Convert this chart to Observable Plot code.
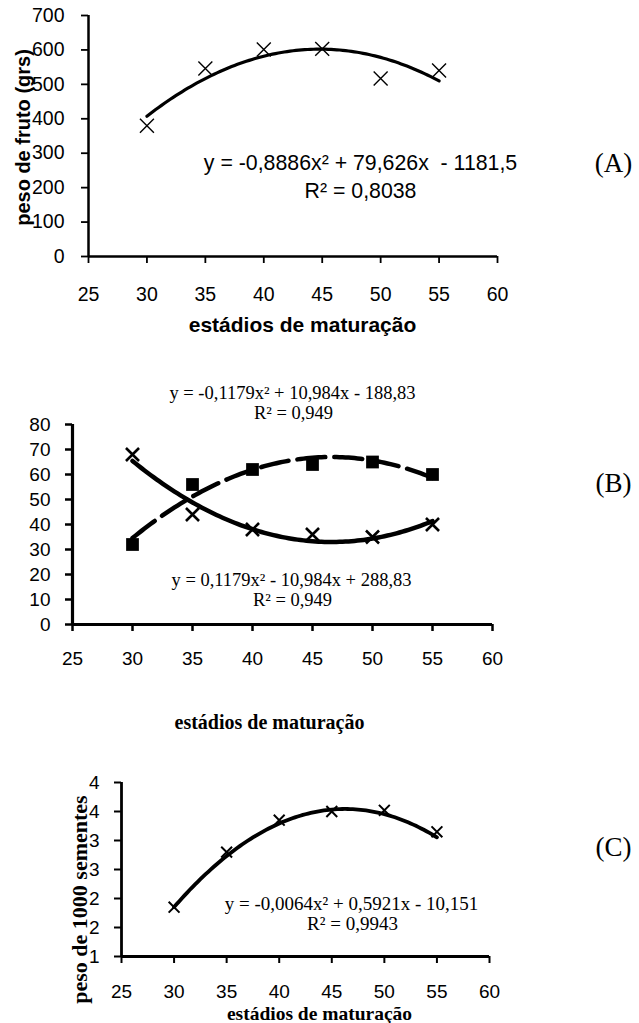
<!DOCTYPE html>
<html>
<head>
<meta charset="utf-8">
<script src="https://cdn.jsdelivr.net/npm/d3@7"></script>
<script src="https://cdn.jsdelivr.net/npm/@observablehq/plot@0.6"></script>
<style>
  html, body { margin: 0; padding: 0; background: #fff; }
  #wrap { position: relative; width: 639px; height: 1023px; overflow: hidden; background: #fff; }
  .panel { position: absolute; left: 0; }
</style>
</head>
<body>
<div id="wrap">
  <div class="panel" id="pA" style="top:0px"></div>
  <div class="panel" id="pB" style="top:370px"></div>
  <div class="panel" id="pC" style="top:740px"></div>
</div>
<script>
// ---------- data ----------
const stages = [30, 35, 40, 45, 50, 55];
const xTicks = [25, 30, 35, 40, 45, 50, 55, 60];

// (A) peso de fruto
const fruitWeight = [380, 546, 601, 603, 517, 540];
const fitA = [-0.8886, 79.626, -1181.5];
const yTicksA = [0, 100, 200, 300, 400, 500, 600, 700];
const eqA = ["y = -0,8886x² + 79,626x\u00a0 - 1181,5", "R² = 0,8038"];

// (B) two complementary series
const seriesSquare = [32, 56, 62, 64, 65, 60];
const seriesCross = [68, 44, 38, 36, 35, 40];
const fitBSquare = [-0.1179, 10.984, -188.83];
const fitBCross = [0.1179, -10.984, 288.83];
const yTicksB = [0, 10, 20, 30, 40, 50, 60, 70, 80];
const eqBSquare = ["y = -0,1179x² + 10,984x - 188,83", "R² = 0,949"];
const eqBCross = ["y = 0,1179x² - 10,984x + 288,83", "R² = 0,949"];

// (C) peso de 1000 sementes
const seedWeight = [1.85, 2.8, 3.35, 3.5, 3.52, 3.15];
const fitC = [-0.0064, 0.5921, -10.151];
const yTicksC = [1, 1.5, 2, 2.5, 3, 3.5, 4];
const eqC = ["y = -0,0064x² + 0,5921x - 10,151", "R² = 0,9943"];

const xTitle = "estádios de maturação";
const yTitleA = "peso de fruto (grs)";
const yTitleC = "peso de 1000 sementes";
const panelLabels = ["(A)", "(B)", "(C)"];

// trendline from the printed polynomial equation
function trend(coef) {
  const [a, b, c] = coef;
  return d3.range(stages[0], stages[stages.length - 1] + 0.001, 0.25)
    .map(x => ({x, y: a * x * x + b * x + c}));
}
const pts = vals => stages.map((x, i) => ({x, y: vals[i]}));

const SANS = "Liberation Sans, Arial, sans-serif";
const SERIF = "Liberation Serif, Times New Roman, serif";
const note = (txt, dx, dy, o = {}) =>
  Plot.text([txt], {frameAnchor: "top-left", dx, dy, textAnchor: "middle", lineAnchor: "middle", ...o});

// ---------- (A) ----------
const chartA = Plot.plot({
  width: 639, height: 370,
  marginLeft: 88, marginRight: 142, marginTop: 15, marginBottom: 114,
  style: {fontFamily: SANS, fontSize: "19px", color: "black", background: "white", overflow: "visible"},
  x: {domain: [25, 60]},
  y: {domain: [0, 700]},
  marks: [
    Plot.axisY({ticks: yTicksA, tickSize: 7, tickPadding: 17, strokeWidth: 1.8, fontSize: 19.5, label: null}),
    Plot.axisX({ticks: xTicks, tickSize: 7, tickPadding: 24, strokeWidth: 1.8, fontSize: 19.5, label: null}),
    Plot.ruleX([25], {stroke: "black", strokeWidth: 2.5}),
    Plot.ruleY([0], {stroke: "black", strokeWidth: 2.5}),
    Plot.line(trend(fitA), {x: "x", y: "y", stroke: "black", strokeWidth: 3.2}),
    Plot.dot(pts(fruitWeight), {x: "x", y: "y", symbol: "times", r: 6.4, stroke: "black", strokeWidth: 1.4}),
    note(eqA[0], 272, 148, {fontSize: 21.3, fontFamily: SANS}),
    note(eqA[1], 272, 176, {fontSize: 21.3, fontFamily: SANS}),
    note(panelLabels[0], 525, 148, {fontSize: 27, fontFamily: SERIF}),
    note(xTitle, 214, 310, {fontSize: 21, fontWeight: "bold", fontFamily: SANS}),
    note(yTitleA, -65, 122, {rotate: -90, fontSize: 20, fontWeight: "bold", fontFamily: SANS})
  ]
});
document.getElementById("pA").append(chartA);

// ---------- (B) ----------
const chartB = Plot.plot({
  width: 639, height: 370,
  marginLeft: 72, marginRight: 147, marginTop: 54, marginBottom: 116,
  style: {fontFamily: SANS, fontSize: "19px", color: "black", background: "white", overflow: "visible"},
  x: {domain: [25, 60]},
  y: {domain: [0, 80]},
  marks: [
    Plot.axisY({ticks: yTicksB, tickSize: 7, tickPadding: 15, strokeWidth: 2.5, fontSize: 19, label: null}),
    Plot.axisX({ticks: xTicks, tickSize: 7, tickPadding: 20, strokeWidth: 2.5, fontSize: 19, label: null}),
    Plot.ruleX([25], {stroke: "black", strokeWidth: 3.2}),
    Plot.ruleY([0], {stroke: "black", strokeWidth: 3.2}),
    Plot.line(trend(fitBSquare), {x: "x", y: "y", stroke: "black", strokeWidth: 4.5, strokeDasharray: "28,9"}),
    Plot.line(trend(fitBCross), {x: "x", y: "y", stroke: "black", strokeWidth: 4.5}),
    Plot.dot(pts(seriesSquare), {x: "x", y: "y", symbol: "square", r: 7.2, fill: "black", stroke: "none"}),
    Plot.dot(pts(seriesCross), {x: "x", y: "y", symbol: "times", r: 6, stroke: "black", strokeWidth: 2.6}),
    note(eqBSquare[0], 220, -31, {fontSize: 18.5, fontFamily: SERIF}),
    note(eqBSquare[1], 221, -11, {fontSize: 18.5, fontFamily: SERIF}),
    note(eqBCross[0], 219, 156, {fontSize: 18.5, fontFamily: SERIF}),
    note(eqBCross[1], 220, 176, {fontSize: 18.5, fontFamily: SERIF}),
    note(panelLabels[1], 541, 59, {fontSize: 27, fontFamily: SERIF}),
    note(xTitle, 197, 298, {fontSize: 20, fontWeight: "bold", fontFamily: SERIF})
  ]
});
document.getElementById("pB").append(chartB);

// ---------- (C) ----------
const chartC = Plot.plot({
  width: 639, height: 283,
  marginLeft: 121, marginRight: 150, marginTop: 42, marginBottom: 67,
  style: {fontFamily: SANS, fontSize: "19px", color: "black", background: "white", overflow: "visible"},
  x: {domain: [25, 60]},
  y: {domain: [1, 4]},
  marks: [
    Plot.axisY({ticks: yTicksC, tickSize: 7, tickPadding: 15, strokeWidth: 2, fontSize: 19, label: null,
      tickFormat: d => String(Math.round(d))}),
    Plot.axisX({ticks: xTicks, tickSize: 7, tickPadding: 21, strokeWidth: 2, fontSize: 19, label: null}),
    Plot.ruleX([25], {stroke: "black", strokeWidth: 2.8}),
    Plot.ruleY([1], {stroke: "black", strokeWidth: 2.8}),
    Plot.line(trend(fitC), {x: "x", y: "y", stroke: "black", strokeWidth: 3.8}),
    Plot.dot(pts(seedWeight), {x: "x", y: "y", symbol: "times", r: 5, stroke: "black", strokeWidth: 2}),
    note(eqC[0], 230, 121, {fontSize: 19, fontFamily: SERIF}),
    note(eqC[1], 231, 141, {fontSize: 19, fontFamily: SERIF}),
    note(panelLabels[2], 492, 65, {fontSize: 27, fontFamily: SERIF}),
    note(xTitle, 198, 231, {fontSize: 19.5, fontWeight: "bold", fontFamily: SERIF}),
    note(yTitleC, -42, 117, {rotate: -90, fontSize: 22, fontWeight: "bold", fontFamily: SERIF})
  ]
});
document.getElementById("pC").append(chartC);
</script>
</body>
</html>
